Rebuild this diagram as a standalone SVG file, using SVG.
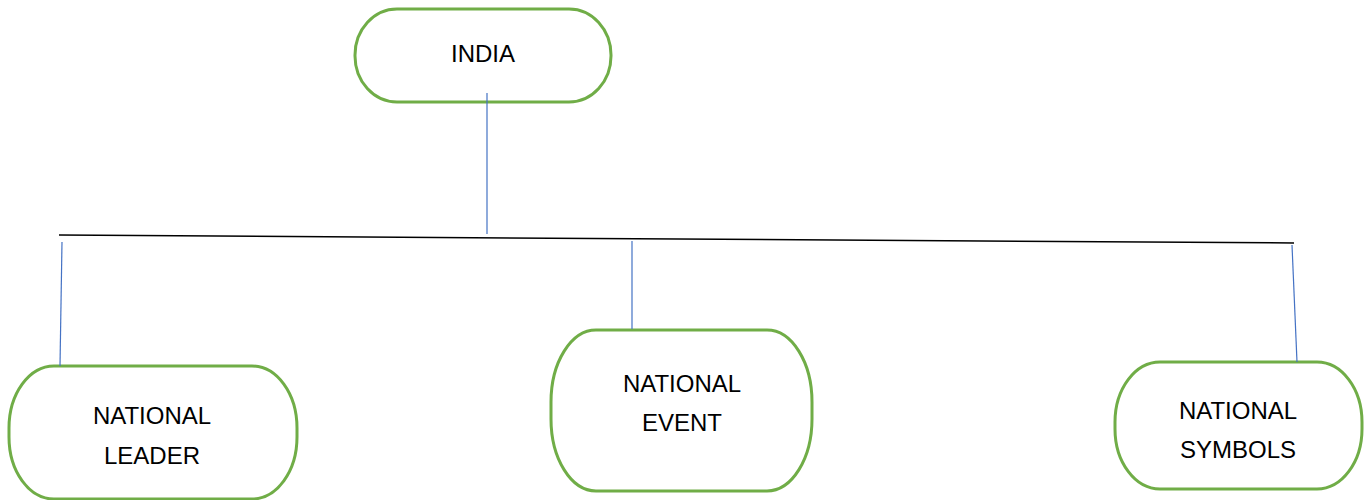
<svg xmlns="http://www.w3.org/2000/svg" width="1368" height="500" viewBox="0 0 1368 500">
<style>
.node{fill:#fff;stroke:#70AD47;stroke-width:3}
.lbl{font-family:"Liberation Sans",Arial,sans-serif;font-size:24px;fill:#000;text-anchor:middle}
.blue{stroke:#4472C4;stroke-width:1.2;fill:none}
.blk{stroke:#000;stroke-width:1.5;fill:none}
</style>
<rect width="1368" height="500" fill="#fff"/>
<g id="india">
<rect class="node" x="355" y="9" width="256" height="93" rx="42" ry="46"/>
<text class="lbl" x="483" y="62">INDIA</text>
</g>
<g id="leader">
<rect class="node" x="9" y="366" width="288" height="133" rx="45" ry="62"/>
<text class="lbl" x="152" y="424">NATIONAL</text>
<text class="lbl" x="152" y="464">LEADER</text>
</g>
<g id="event">
<rect class="node" x="551" y="330" width="261" height="161" rx="45" ry="72"/>
<text class="lbl" x="682" y="392">NATIONAL</text>
<text class="lbl" x="682" y="431">EVENT</text>
</g>
<g id="symbols">
<rect class="node" x="1115" y="362" width="247" height="127" rx="45" ry="60"/>
<text class="lbl" x="1238" y="419">NATIONAL</text>
<text class="lbl" x="1238" y="458">SYMBOLS</text>
</g>
<g id="connectors">
<line class="blk" x1="59" y1="235" x2="1294" y2="243"/>
<line class="blue" x1="487" y1="93" x2="487" y2="234"/>
<line class="blue" x1="62" y1="242" x2="60" y2="366"/>
<line class="blue" x1="632" y1="241" x2="632" y2="329"/>
<line class="blue" x1="1292" y1="245" x2="1297" y2="362"/>
</g>
</svg>
